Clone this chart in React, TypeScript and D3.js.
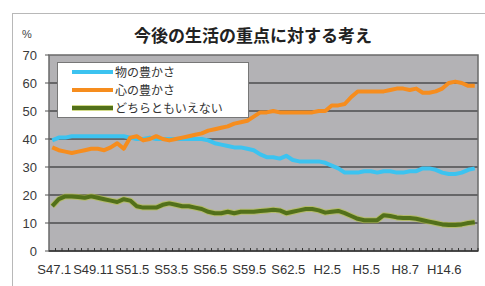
import React from "react";
import * as d3 from "d3";

// survey dates (only every 6th one is labelled on the axis)
const dates = [
  "S47.1", "S47.5", "S47.11", "S48.5", "S48.11", "S49.5", "S49.11",
  "S50.5", "S50.8", "S50.11", "S51.1", "S51.3", "S51.5",
  "S51.11", "S52.5", "S52.11", "S53.1", "S53.3", "S53.5",
  "S53.11", "S54.5", "S54.11", "S55.5", "S55.11", "S56.5",
  "S56.11", "S57.5", "S57.11", "S58.5", "S58.11", "S59.5",
  "S59.11", "S60.5", "S60.11", "S61.5", "S61.11", "S62.5",
  "S62.11", "S63.5", "S63.11", "H1.5", "H1.11", "H2.5",
  "H2.11", "H3.5", "H3.11", "H4.5", "H4.11", "H5.5",
  "H5.11", "H6.5", "H6.11", "H7.5", "H7.11", "H8.7",
  "H9.5", "H10.12", "H11.12", "H12.9", "H13.9", "H14.6",
  "H15.6", "H16.6", "H17.6", "H18.10", "H19.7",
];

const mono = [
  39.5, 40.5, 40.5, 41, 41, 41, 41, 41, 41, 41, 41, 41, 40.5, 40, 40, 40.5,
  40, 40, 40, 40, 40, 40, 40, 40, 39.5, 38.5, 38, 37.5, 37, 37, 36.5, 36,
  34.5, 33.5, 33.5, 33, 34, 32.5, 32, 32, 32, 32, 31.5, 30.5, 29.5, 28, 28,
  28, 28.5, 28.5, 28, 28.5, 28.5, 28, 28, 28.5, 28.5, 29.5, 29.5, 29, 28,
  27.5, 27.5, 28, 29, 29.5,
];

const kokoro = [
  37, 36, 35.5, 35, 35.5, 36, 36.5, 36.5, 36, 37, 38.5, 36.5, 40.5, 41,
  39.5, 40, 41, 40, 39.5, 40, 40.5, 41, 41.5, 42, 43, 43.5, 44, 44.5, 45.5,
  46, 46.5, 48, 49.5, 49.5, 50, 49.5, 49.5, 49.5, 49.5, 49.5, 49.5, 50, 50,
  52, 52, 52.5, 55, 57, 57, 57, 57, 57, 57.5, 58, 58, 57.5, 58, 56.5, 56.5,
  57, 58, 60, 60.5, 60, 59, 59,
];

const dochira = [
  16, 18.5, 19.5, 19.5, 19.3, 19, 19.5, 19, 18.5, 18, 17.5, 18.5, 18, 16,
  15.5, 15.5, 15.5, 16.5, 17, 16.5, 16, 16, 15.5, 15, 14, 13.5, 13.5, 14,
  13.5, 14, 14, 14, 14.3, 14.5, 14.7, 14.5, 13.5, 14, 14.5, 15, 15, 14.5,
  13.7, 14, 14.3, 13.5, 12.5, 11.5, 11, 11, 11, 12.8, 12.5, 12, 11.8, 11.8,
  11.5, 11, 10.5, 10, 9.5, 9.3, 9.3, 9.5, 10, 10.3,
];

const yTicks = [0, 10, 20, 30, 40, 50, 60, 70];
const labelEvery = 6;

const series = [
  { name: "物の豊かさ", values: mono, color: "#3cc3f0", halo: null },
  { name: "心の豊かさ", values: kokoro, color: "#f68d1e", halo: null },
  { name: "どちらともいえない", values: dochira, color: "#52701a", halo: "#b4c23c" },
];

export default function App() {
  const W = 485;
  const H = 286;
  const plot = { left: 49, right: 478, top: 55, bottom: 251 };

  const x = d3
    .scaleBand<string>()
    .domain(dates)
    .range([plot.left, plot.right])
    .padding(0);
  const y = d3.scaleLinear().domain([0, 70]).range([plot.bottom, plot.top]);
  const cx = (i: number) => (x(dates[i]) as number) + x.bandwidth() / 2;

  const line = d3
    .line<number>()
    .x((_, i) => cx(i))
    .y((d) => y(d))
    .curve(d3.curveLinear);

  const numFont = "'Liberation Sans', Arial, sans-serif";
  const jpFont = "'Noto Sans CJK JP', sans-serif";

  return (
    <svg
      width={W}
      height={H}
      style={{ position: "absolute", left: 0, top: 0, background: "#fff" }}
    >
      {/* outer frame */}
      <rect x={12.5} y={13.5} width={480} height={280} fill="#fff" stroke="#b8b8b8" />

      <text x={253} y={42} textAnchor="middle" fontFamily={jpFont} fontWeight="bold" fontSize={17} fill="#222">
        今後の生活の重点に対する考え
      </text>
      <text x={22} y={38} fontFamily={numFont} fontSize={11} fill="#444">%</text>

      {/* plot area */}
      <rect
        x={plot.left}
        y={plot.top}
        width={plot.right - plot.left}
        height={plot.bottom - plot.top}
        fill="#b3b2b5"
      />
      {yTicks.filter((t) => t > 0 && t < 70).map((t) => (
        <line key={t} x1={plot.left} x2={plot.right} y1={y(t)} y2={y(t)} stroke="#4d4d4f" strokeWidth={1.5} />
      ))}
      <rect
        x={plot.left}
        y={plot.top}
        width={plot.right - plot.left}
        height={plot.bottom - plot.top}
        fill="none"
        stroke="#6a6a6a"
        strokeWidth={1.5}
      />

      {/* y axis */}
      {yTicks.map((t) => (
        <g key={t}>
          <line x1={plot.left - 4} x2={plot.left} y1={y(t)} y2={y(t)} stroke="#555" />
          <text x={37} y={y(t) + 4.5} textAnchor="end" fontFamily={numFont} fontSize={13} fill="#3a3a3a">
            {t}
          </text>
        </g>
      ))}

      {/* x axis */}
      <line x1={plot.left} x2={plot.right} y1={plot.bottom} y2={plot.bottom} stroke="#333" strokeWidth={1.5} />
      {dates.map((d) => (
        <line
          key={d}
          x1={(x(d) as number) + x.bandwidth()}
          x2={(x(d) as number) + x.bandwidth()}
          y1={plot.bottom}
          y2={plot.bottom - 3}
          stroke="#333"
        />
      ))}
      {dates.map((d, i) =>
        i % labelEvery === 0 ? (
          <text key={d} x={cx(i) + 2} y={274} textAnchor="middle" fontFamily={numFont} fontSize={13} fill="#333">
            {d}
          </text>
        ) : null
      )}

      {/* series */}
      {series.map((s) => (
        <g key={s.name}>
          {s.halo && (
            <path d={line(s.values) ?? ""} fill="none" stroke={s.halo} strokeWidth={6} strokeOpacity={0.6} strokeLinejoin="round" />
          )}
          <path d={line(s.values) ?? ""} fill="none" stroke={s.color} strokeWidth={4} strokeLinejoin="round" />
        </g>
      ))}

      {/* legend */}
      <rect x={57.5} y={62.5} width={191} height={55} fill="#fff" stroke="#777" />
      {series.map((s, i) => {
        const ly = 72 + i * 18;
        return (
          <g key={s.name}>
            {s.halo && <line x1={72} x2={113} y1={ly} y2={ly} stroke={s.halo} strokeWidth={6} strokeOpacity={0.6} />}
            <line x1={72} x2={113} y1={ly} y2={ly} stroke={s.color} strokeWidth={4} />
            <text x={115} y={ly + 4.5} fontFamily={jpFont} fontSize={12} fill="#333">
              {s.name}
            </text>
          </g>
        );
      })}
    </svg>
  );
}
